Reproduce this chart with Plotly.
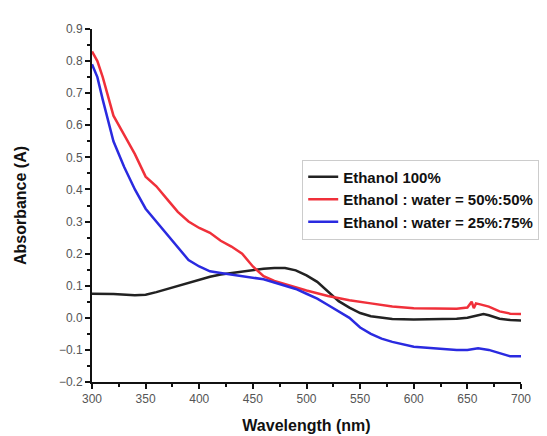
import plotly.graph_objects as go

# Wavelength (nm) sample points
wl_black = [300, 320, 340, 350, 360, 370, 380, 390, 400, 410, 420, 430, 440, 450, 460, 470, 480, 490,
            500, 510, 520, 530, 540, 550, 560, 570, 580, 600, 620, 640, 650, 660, 665, 670, 680, 690, 700]
abs_black = [0.075, 0.074, 0.070, 0.072, 0.080, 0.090, 0.100, 0.110, 0.120, 0.128, 0.135, 0.140, 0.145,
             0.150, 0.153, 0.155, 0.155, 0.148, 0.132, 0.112, 0.082, 0.052, 0.032, 0.015, 0.005, 0.000,
             -0.004, -0.005, -0.005, -0.003, 0.000, 0.008, 0.012, 0.008, -0.003, -0.007, -0.008]

wl_red = [300, 305, 310, 320, 330, 340, 350, 360, 370, 380, 390, 400, 410, 420, 430, 440, 450, 460,
          470, 480, 490, 500, 520, 540, 560, 580, 600, 620, 640, 650, 654, 656, 658, 662, 670, 680, 690, 700]
abs_red = [0.83, 0.80, 0.75, 0.63, 0.57, 0.51, 0.44, 0.41, 0.37, 0.33, 0.30, 0.28, 0.265, 0.24, 0.222,
           0.20, 0.16, 0.13, 0.115, 0.105, 0.095, 0.085, 0.068, 0.055, 0.045, 0.035, 0.030, 0.028,
           0.028, 0.032, 0.050, 0.030, 0.045, 0.042, 0.035, 0.020, 0.013, 0.012]

wl_blue = [300, 305, 310, 320, 330, 340, 350, 360, 370, 380, 390, 400, 410, 420, 430, 440, 450, 460,
           470, 480, 490, 500, 510, 520, 530, 540, 550, 560, 570, 580, 600, 620, 640, 650, 660, 670,
           680, 690, 700]
abs_blue = [0.79, 0.75, 0.68, 0.55, 0.47, 0.40, 0.34, 0.30, 0.26, 0.22, 0.18, 0.16, 0.145, 0.14, 0.135,
            0.13, 0.125, 0.12, 0.11, 0.10, 0.09, 0.075, 0.06, 0.04, 0.02, 0.00, -0.03, -0.05, -0.065,
            -0.075, -0.09, -0.095, -0.10, -0.10, -0.095, -0.10, -0.11, -0.12, -0.12]

names = ["Ethanol 100%", "Ethanol : water = 50%:50%", "Ethanol : water = 25%:75%"]
colors = ["#222222", "#f0303a", "#2a2ae0"]

fig = go.Figure()
for x, y, n, c in zip([wl_black, wl_red, wl_blue], [abs_black, abs_red, abs_blue], names, colors):
    fig.add_trace(go.Scatter(x=x, y=y, mode="lines", name=n, line=dict(color=c, width=2.5)))

font_fam = "Arial, Liberation Sans, sans-serif"
fig.update_layout(
    width=547, height=436,
    margin=dict(l=83, r=34, t=21, b=52),
    paper_bgcolor="white", plot_bgcolor="white",
    font=dict(family=font_fam, color="#111"),
    showlegend=True,
    legend=dict(x=0.49, y=0.63, xanchor="left", yanchor="top",
                bgcolor="white", bordercolor="#cccccc", borderwidth=1,
                font=dict(size=15, weight="bold", color="#111"),
                tracegroupgap=0, itemwidth=30),
    xaxis=dict(range=[300, 700], tick0=300, dtick=50, showgrid=False, zeroline=False,
               showline=True, linecolor="#111", linewidth=2,
               ticks="outside", ticklen=5, tickwidth=2, tickcolor="#111",
               minor=dict(ticks="outside", ticklen=3, tickwidth=2, dtick=25, tickcolor="#111"),
               tickfont=dict(size=12, color="#555"),
               title=dict(text="Wavelength (nm)", font=dict(size=16, weight="bold", color="#111"), standoff=14)),
    yaxis=dict(range=[-0.2, 0.9], tick0=-0.2, dtick=0.1, tickformat=".1f", showgrid=False, zeroline=False,
               showline=True, linecolor="#111", linewidth=2,
               ticks="outside", ticklen=5, tickwidth=2, tickcolor="#111",
               minor=dict(ticks="outside", ticklen=3, tickwidth=2, dtick=0.05, tickcolor="#111"),
               tickfont=dict(size=12, color="#555"),
               title=dict(text="Absorbance (A)", font=dict(size=16, weight="bold", color="#111"), standoff=28)),
)

fig.write_html("out.html")
